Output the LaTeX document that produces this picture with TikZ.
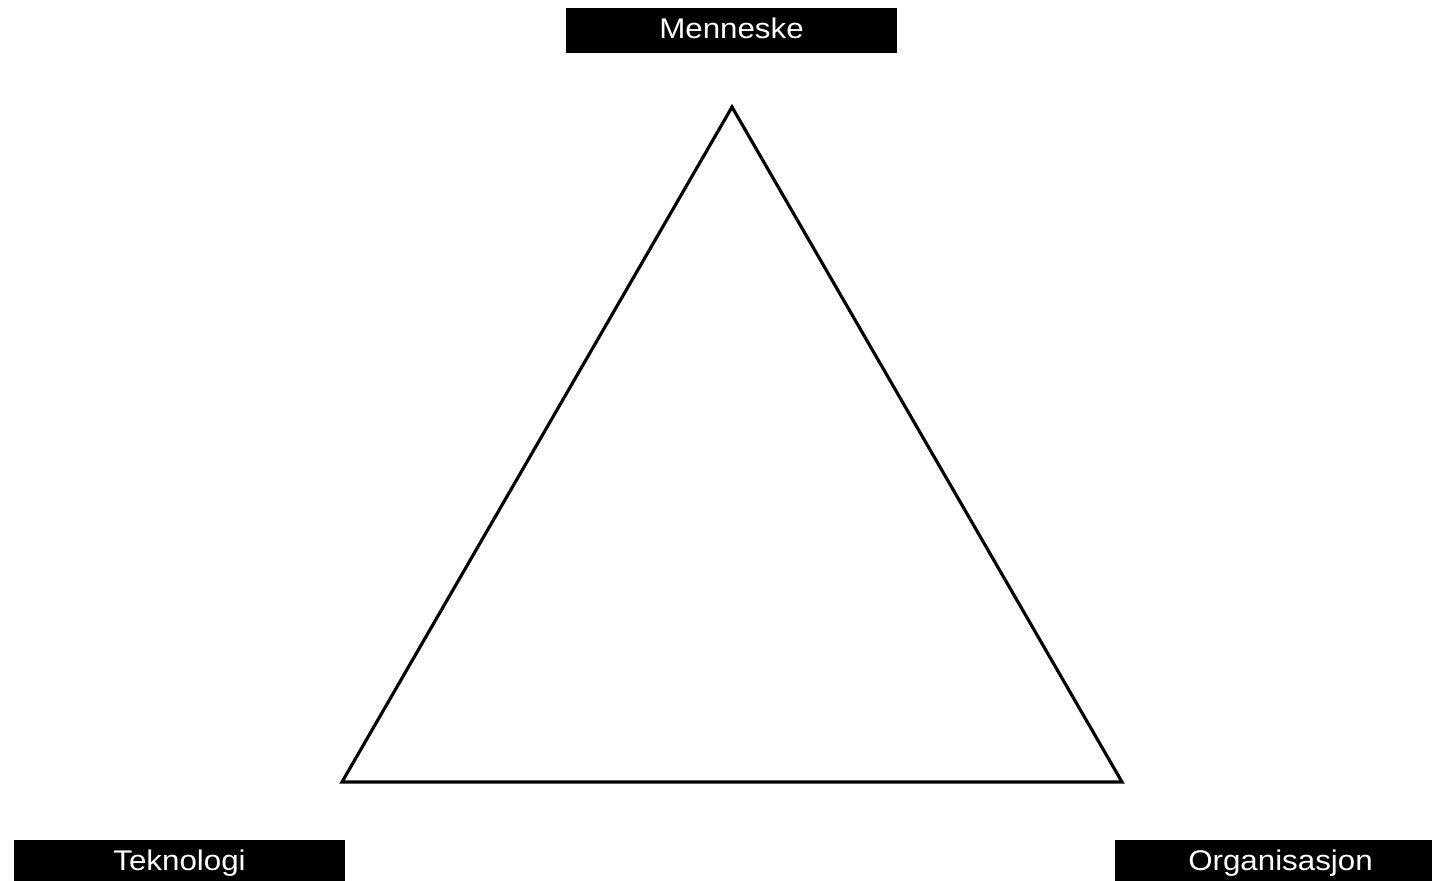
\documentclass[tikz,border=0pt]{standalone}
\usepackage{fontspec}
\setmainfont{Liberation Sans}
\newfontfamily\boxfont[FakeStretch=1.1]{Liberation Sans}
\begin{document}
\begin{tikzpicture}[x=0.02cm, y=-0.02cm,
        cornerbox/.style={rectangle, fill=black, text=white, inner sep=0pt,
            minimum width=6.62cm, minimum height=0.894cm,
            text height=12pt, text depth=3pt,
            font=\boxfont\fontsize{16.2}{20}\selectfont}]
        \clip (0,0) rectangle (1432,880);
        \coordinate (top) at (732,107);
        \coordinate (left) at (342,782);
        \coordinate (right) at (1122,782);
        \draw[line width=1.8pt] (top) -- (right) -- (left) -- cycle;
        \node[cornerbox] (menneske) at (731.5,30.3) {Menneske};
        \node[cornerbox] (teknologi) at (179.5,862.3) {Teknologi};
        \node[cornerbox] (organisasjon) at (1280.5,862.3) {Organisasjon};
    \end{tikzpicture}
\end{document}
